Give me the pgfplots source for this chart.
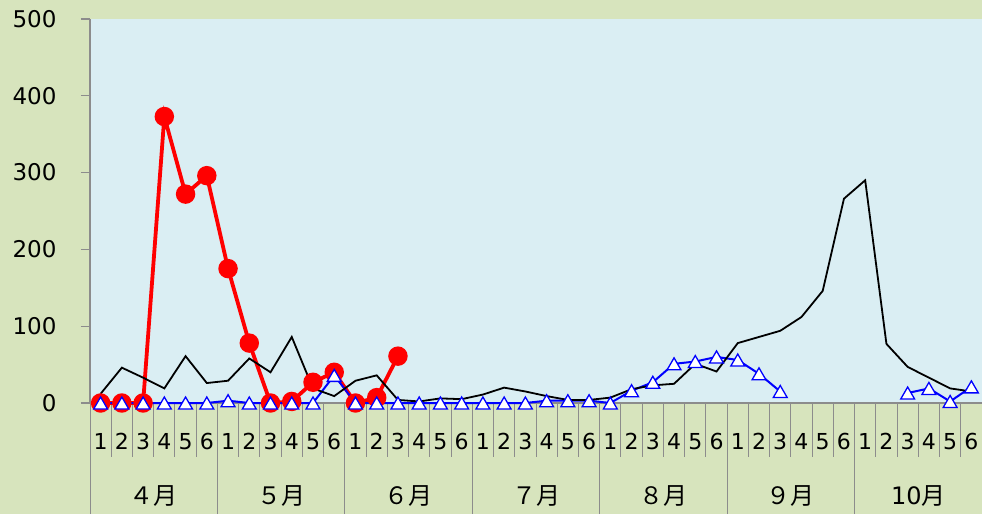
\documentclass[border=0pt]{standalone}
\usepackage{fontspec}
\setmainfont{DejaVu Sans}
\newfontfamily\cjk{Noto Sans CJK JP}
\usepackage{pgfplots}
\pgfplotsset{compat=1.18}
\definecolor{bggreen}{HTML}{D7E4BD}
\definecolor{plotblue}{HTML}{DAEEF3}
\definecolor{axgray}{HTML}{8C8C8C}
\begin{document}
\begin{tikzpicture}[x=1pt,y=1pt]
\fill[bggreen] (0,0) rectangle (982,514);
\useasboundingbox (0,0) rectangle (982,514);
\begin{axis}[
  scale only axis, width=892pt, height=384pt,
  at={(90pt,111pt)}, anchor=south west,
  xmin=-0.5, xmax=41.5, ymin=0, ymax=500,
  axis x line*=bottom, axis y line*=left,
  axis line style={axgray, line width=1.2pt},
  axis background/.style={fill=plotblue},
  ytick={0,100,...,500},
  major tick length=9pt,
  tick align=outside,
  ytick style={axgray, line width=1.2pt},
  yticklabel style={font=\fontsize{23}{23}\selectfont, anchor=east, xshift=-21pt},
  /pgf/number format/assume math mode=true,
  xtick={0,...,41},
  xticklabels={1,2,3,4,5,6,1,2,3,4,5,6,1,2,3,4,5,6,1,2,3,4,5,6,1,2,3,4,5,6,1,2,3,4,5,6,1,2,3,4,5,6},
  xtick style={draw=none},
  xticklabel style={font=\fontsize{22}{22}\selectfont, anchor=base, yshift=-37pt},
  unbounded coords=jump,
  clip=false,
]
% week separators
\pgfplotsinvokeforeach{0.5,1.5,2.5,3.5,4.5,6.5,7.5,8.5,9.5,10.5,12.5,13.5,14.5,15.5,16.5,18.5,19.5,20.5,21.5,22.5,24.5,25.5,26.5,27.5,28.5,30.5,31.5,32.5,33.5,34.5,36.5,37.5,38.5,39.5,40.5}{
  \draw[axgray, line width=1pt] (axis cs:#1,0) -- ++(0pt,-54pt);
}
% month separators
\pgfplotsinvokeforeach{-0.5,5.5,11.5,17.5,23.5,29.5,35.5,41.5}{
  \draw[axgray, line width=1pt] (axis cs:#1,0) -- ++(0pt,-111pt);
}
\node[font=\fontsize{24}{24}\selectfont] at ([yshift=-93pt]axis cs:2.5,0) {\cjk ４月};
\node[font=\fontsize{24}{24}\selectfont] at ([yshift=-93pt]axis cs:8.5,0) {\cjk ５月};
\node[font=\fontsize{24}{24}\selectfont] at ([yshift=-93pt]axis cs:14.5,0) {\cjk ６月};
\node[font=\fontsize{24}{24}\selectfont] at ([yshift=-93pt]axis cs:20.5,0) {\cjk ７月};
\node[font=\fontsize{24}{24}\selectfont] at ([yshift=-93pt]axis cs:26.5,0) {\cjk ８月};
\node[font=\fontsize{24}{24}\selectfont] at ([yshift=-93pt]axis cs:32.5,0) {\cjk ９月};
\node[font=\fontsize{24}{24}\selectfont] at ([yshift=-93pt]axis cs:38.5,0) {10{\cjk 月}};

% red series
\addplot[red, line width=3.8pt, mark=*, mark size=7.8pt, mark options={solid, fill=red, draw=none}] coordinates {
(0,0) (1,0) (2,0) (3,373) (4,272) (5,296) (6,175) (7,78) (8,0) (9,2) (10,27) (11,40) (12,0) (13,7) (14,61)
};
% blue series
\addplot[blue, line width=2pt, mark=triangle*, mark size=8pt, mark options={solid, fill=white, draw=blue, line width=1.3pt, yshift=-2pt}] coordinates {
(0,0) (1,0) (2,0) (3,0) (4,0) (5,0) (6,3) (7,0) (8,0) (9,0) (10,0) (11,36)
(12,0) (13,0) (14,0) (15,0) (16,0) (17,0) (18,0) (19,0) (20,0) (21,3) (22,3) (23,3)
(24,0) (25,16) (26,27) (27,51) (28,54) (29,60) (30,56) (31,38) (32,15)
(33,nan) (34,nan) (35,nan) (36,nan) (37,nan)
(38,13) (39,19) (40,2) (41,21)
};
% black series
\addplot[black, line width=1.8pt, mark=none] coordinates {
(0,12) (1,46) (2,33) (3,19) (4,61) (5,26) (6,29) (7,58) (8,40) (9,86) (10,19) (11,9)
(12,29) (13,36) (14,4) (15,2) (16,6) (17,5) (18,11) (19,20) (20,15) (21,9) (22,4) (23,4)
(24,7) (25,18) (26,23) (27,25) (28,51) (29,41) (30,78) (31,86) (32,94) (33,112) (34,146) (35,266)
(36,290) (37,77) (38,47) (39,33) (40,19) (41,15)
};
\end{axis}
\end{tikzpicture}
\end{document}
